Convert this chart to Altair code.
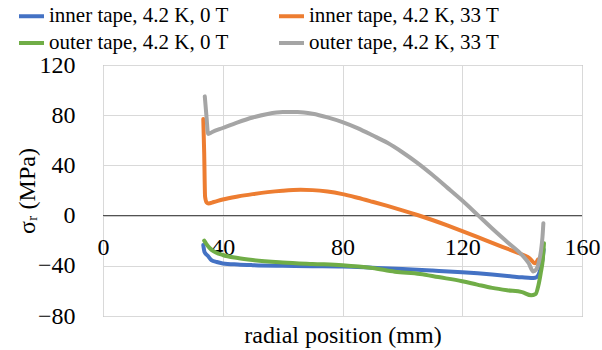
import altair as alt
import pandas as pd

FONT = "'Liberation Serif', 'Times New Roman', Times, 'DejaVu Serif', serif"

series_names = [
    "inner tape, 4.2 K, 0 T",
    "inner tape, 4.2 K, 33 T",
    "outer tape, 4.2 K, 0 T",
    "outer tape, 4.2 K, 33 T",
]
series_colors = ["#4472C4", "#ED7D31", "#70AD47", "#A5A5A5"]
legend_order = [series_names[0], series_names[2], series_names[1], series_names[3]]

# inner tape, 0 T
blue_x = [33.5, 33.9, 35.0, 36.2, 38, 40, 45, 50, 60, 70, 80, 90, 100, 110, 120, 130, 136, 140, 143, 144.4, 145.5, 146.2, 146.8, 147.2]
blue_y = [-23.5, -29, -32, -35.4, -37, -38.1, -39, -39.5, -40, -40.3, -40.6, -41.5, -42.5, -43.8, -45.2, -47, -48.3, -49.2, -49.7, -49.5, -47, -42, -35, -27]

# inner tape, 33 T
orange_x = [33.5, 33.8, 34.1, 34.6, 35.2, 37, 40, 45, 50, 55, 60, 66, 70, 75, 80, 85, 90, 95, 100, 105, 110, 115, 120, 125, 130, 135, 140, 142.5, 144.3, 145.3]
orange_y = [77, 50, 15, 10.5, 9.7, 10.8, 12.8, 15.2, 17.1, 18.7, 19.8, 20.5, 20.3, 19.2, 17.1, 14.2, 11, 7.7, 4.2, 0.5, -3.5, -7.8, -12.3, -17, -21.8, -26.4, -31, -34, -38, -35]

# outer tape, 0 T
green_x = [33.8, 34.5, 35.7, 37, 40, 45, 50, 60, 70, 80, 90, 97.5, 105.9, 112, 120, 125, 130, 135, 140, 143, 144.5, 145.4, 146.2, 146.9, 147.3]
green_y = [-20, -22.5, -26, -28.5, -31.4, -33.8, -35.4, -37.3, -38.5, -39.5, -41.8, -44.7, -46.5, -49, -52.3, -55, -57.6, -59.5, -61, -63.5, -62.5, -56, -46, -35, -22]

# outer tape, 33 T
gray_x = [34.0, 34.6, 35.1, 36.5, 40, 45, 50, 55, 60, 65, 70, 75, 80, 85, 90, 95, 100, 105, 110, 115, 120, 125.4, 130, 135, 140, 142.2, 143.7, 144.7, 145.6, 146.3, 146.8, 147.1]
gray_y = [95, 78, 65, 66.6, 69.8, 74.3, 78.2, 81, 82.5, 82.6, 81.2, 78.3, 74.5, 69.7, 64, 58, 50.5, 42, 32.5, 22.3, 12, 0, -10.3, -21, -31.5, -38, -44.5, -43, -37, -28, -17, -6]

x_ticks = [0, 40, 80, 120, 160]
y_ticks = [-80, -40, 0, 40, 80, 120]
zero_line = [0]

all_x = [blue_x, orange_x, green_x, gray_x]
all_y = [blue_y, orange_y, green_y, gray_y]

frames = []
for name, xs, ys in zip(series_names, all_x, all_y):
    frames.append(pd.DataFrame({"x": xs, "y": ys, "series": name}))

PLOT_W, PLOT_H = 479, 251
y_zero_from_bottom = PLOT_H * (0 - (-80)) / 200.0

x_enc = alt.X(
    "x:Q",
    scale=alt.Scale(domain=[0, 160], nice=False, zero=False),
    axis=alt.Axis(
        values=x_ticks,
        title="radial position (mm)",
        offset=-y_zero_from_bottom,
        domain=False,
        ticks=False,
        grid=True,
        gridColor="#D9D9D9",
        gridWidth=1,
        labelFont=FONT,
        labelFontSize=24,
        labelColor="#000000",
        labelPadding=20,
        labelFlush=False,
        labelOverlap=False,
        titleFont=FONT,
        titleFontSize=24,
        titleFontWeight="normal",
        titleColor="#000000",
        titleY=120,
        titleBaseline="middle",
    ),
)
y_enc = alt.Y(
    "y:Q",
    scale=alt.Scale(domain=[-80, 120], nice=False, zero=False),
    axis=alt.Axis(
        values=y_ticks,
        title="σᵣ (MPa)",
        domain=False,
        ticks=False,
        grid=True,
        gridColor="#D9D9D9",
        gridWidth=1,
        labelFont=FONT,
        labelFontSize=24,
        labelColor="#000000",
        labelPadding=28,
        titleFont=FONT,
        titleFontSize=24,
        titleFontWeight="normal",
        titleColor="#000000",
        titleAngle=270,
        titleX=-76,
        titleY=PLOT_H / 2,
        titleAlign="center",
        titleBaseline="middle",
    ),
)
color_enc = alt.Color(
    "series:N",
    scale=alt.Scale(domain=series_names, range=series_colors),
    legend=alt.Legend(
        title=None,
        orient="none",
        legendX=-86,
        legendY=-63.5,
        columns=2,
        columnPadding=42,
        rowPadding=2,
        padding=0,
        values=legend_order,
        symbolType="stroke",
        symbolSize=625,
        symbolStrokeWidth=4,
        labelFont=FONT,
        labelFontSize=21,
        labelColor="#000000",
        labelOffset=3,
        labelLimit=0,
    ),
)

zero_rule = alt.Chart(pd.DataFrame({"y": zero_line})).mark_rule(
    color="#404040", strokeWidth=1
).encode(y=alt.Y("y:Q", scale=alt.Scale(domain=[-80, 120], nice=False, zero=False)))

layers = [zero_rule]
for df in frames:
    layers.append(
        alt.Chart(df).mark_line(
            strokeWidth=4, strokeCap="round", strokeJoin="round", interpolate="monotone", clip=False
        ).encode(x=x_enc, y=y_enc, color=color_enc)
    )

chart = alt.layer(*layers).properties(
    width=PLOT_W,
    height=PLOT_H,
    autosize=alt.AutoSizeParams(type="none"),
    padding={"left": 103, "top": 65, "right": 20, "bottom": 34},
    background="#FFFFFF",
).configure_view(
    stroke="#8C8C8C", strokeWidth=1
)

chart.save("out.html", embed_options={"renderer": "svg", "actions": False})
